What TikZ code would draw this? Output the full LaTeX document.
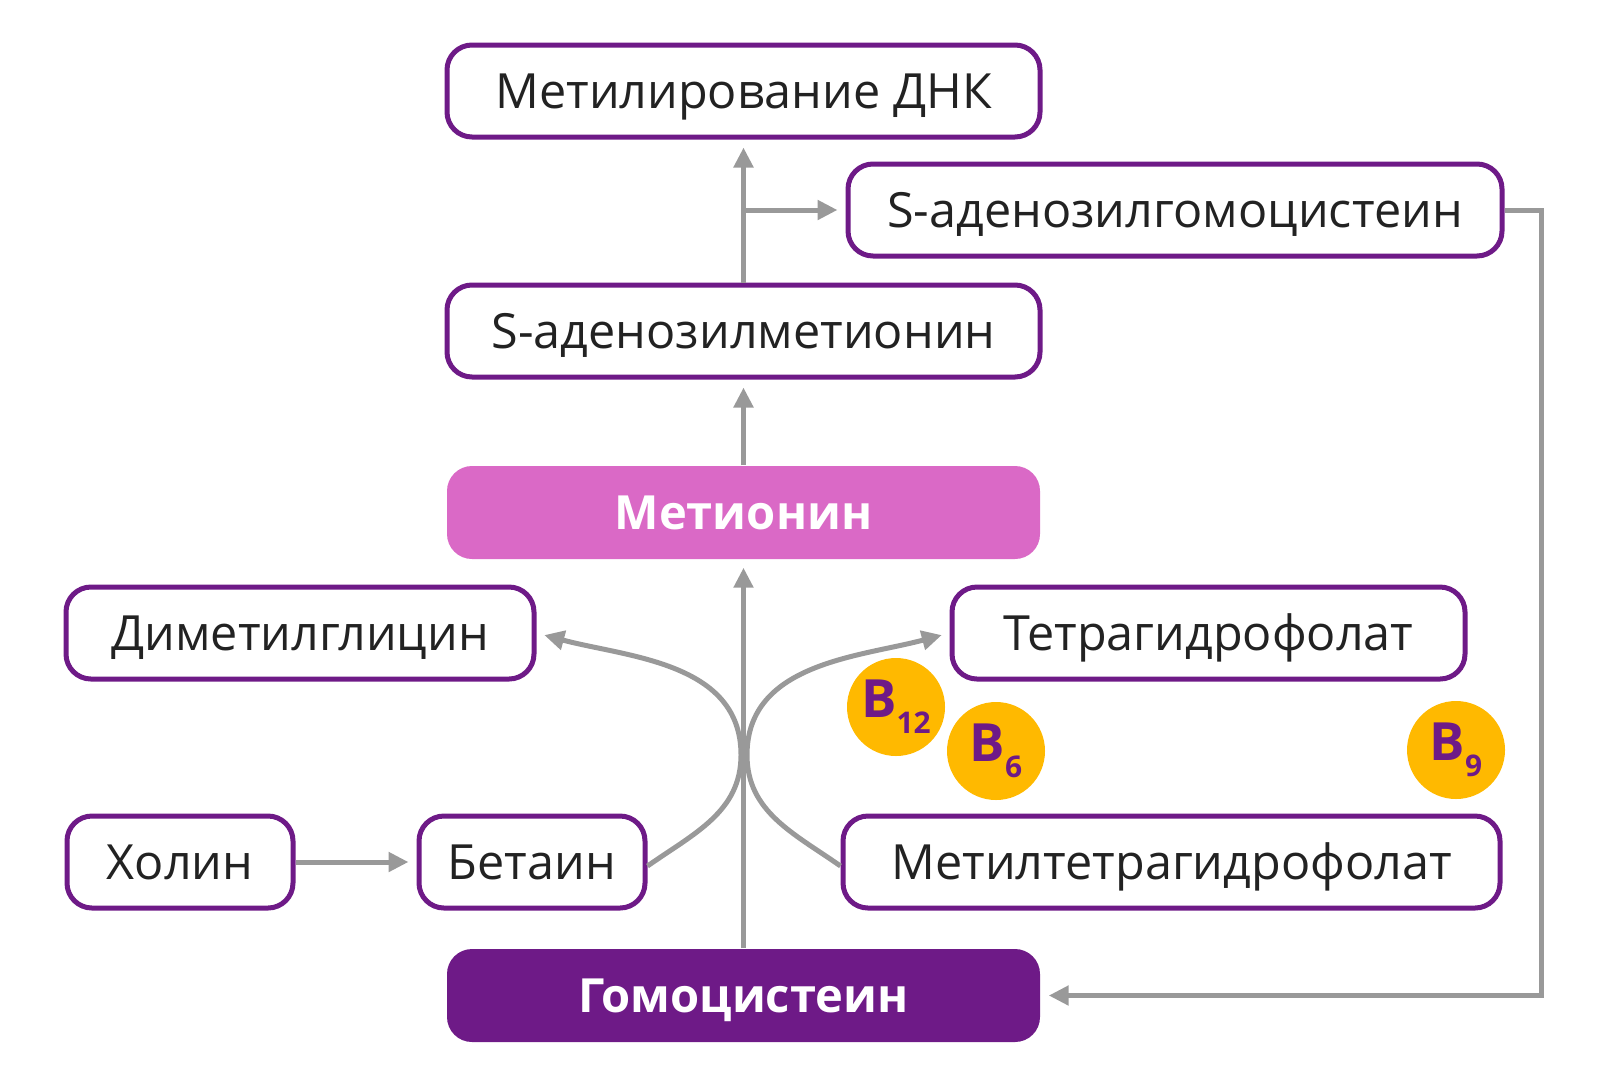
\documentclass[tikz,border=0pt]{standalone}
\usepackage{fontspec}
\setmainfont{Open Sans}
\usetikzlibrary{arrows.meta}
\definecolor{purp}{HTML}{6E1A87}
\definecolor{orchid}{HTML}{DA69C6}
\definecolor{gold}{HTML}{FFB900}
\definecolor{linegray}{HTML}{999999}
\definecolor{ink}{HTML}{222222}
\tikzset{
  box/.style={draw=purp, line width=0.05cm, rounded corners=0.25cm, inner sep=0pt,
    minimum height=0.92cm, fill=white, text=ink, text height=9.85pt, text depth=0pt,
    font=\fontsize{13.8}{16}\selectfont},
  mainbox/.style={rounded corners=0.25cm, inner sep=0pt, minimum height=0.93cm,
    minimum width=5.93cm, text=white, text height=9.6pt, text depth=0pt,
    font=\bfseries\fontsize{13.4}{16}\selectfont},
  vit/.style={circle, fill=gold, minimum size=0.98cm, inner sep=0pt, text=purp,
    font=\bfseries\fontsize{15}{16}\selectfont},
  link/.style={draw=linegray, line width=0.05cm, shorten >=0.08cm,
    -{Triangle[length=0.2cm,width=0.19cm]}}
}
\newcommand{\vsub}[1]{\raisebox{-0.55ex}{\fontsize{8.5}{9}\selectfont #1}}
\begin{document}
\begin{tikzpicture}
  \useasboundingbox (0,0) rectangle (16,-10.88);

  % top chain
  \node[box, minimum width=5.93cm] (dna) at (7.435,-0.91) {Метилирование ДНК};
  \node[box, minimum width=6.54cm] (sah) at (11.75,-2.10) {S-аденозилгомоцистеин};
  \node[box, minimum width=5.93cm] (sam) at (7.435,-3.31) {S-аденозилметионин};
  \node[mainbox, fill=orchid] (met) at (7.435,-5.125) {Метионин};

  % side boxes
  \node[box, minimum width=4.68cm] (dmg) at (3.00,-6.33) {Диметилглицин};
  \node[box, minimum width=5.13cm] (thf) at (12.085,-6.33) {Тетрагидрофолат};
  \node[box, minimum width=2.26cm] (chol) at (1.80,-8.62) {Холин};
  \node[box, minimum width=2.26cm] (bet) at (5.32,-8.62) {Бетаин};
  \node[box, minimum width=6.57cm] (mthf) at (11.715,-8.62) {Метилтетрагидрофолат};

  % bottom
  \node[mainbox, fill=purp] (hcy) at (7.435,-9.955) {Гомоцистеин};

  % vitamins
  \node[vit] (b12) at (8.96,-7.07) {B\vsub{12}};
  \node[vit] (b6) at (9.96,-7.51) {B\vsub{6}};
  \node[vit] (b9) at (14.56,-7.50) {B\vsub{9}};

  % connectors
  \coordinate (fork) at (sam.north |- sah.west);
  \coordinate (turn) at ([xshift=0.37cm]sah.east);
  \coordinate (kl) at (7.41,-7.55);
  \coordinate (kr) at (7.47,-7.55);
  \draw[link] (sam.north) -- (dna.south);
  \draw[link] (fork) -- (sah.west);
  \draw[link] (met.north) -- (sam.south);
  \draw[link] (hcy.north) -- (met.south);
  \draw[link] (sah.east) -- (turn) |- (hcy.east);
  \draw[link] (chol.east) -- (bet.west);
  \draw[link] ([yshift=-0.04cm]bet.east) to[out=35,in=-90] (kl) to[out=90,in=-15] (dmg.east);
  \draw[link] ([yshift=-0.04cm]mthf.west) to[out=145,in=-90] (kr) to[out=90,in=195] (thf.west);
\end{tikzpicture}
\end{document}
